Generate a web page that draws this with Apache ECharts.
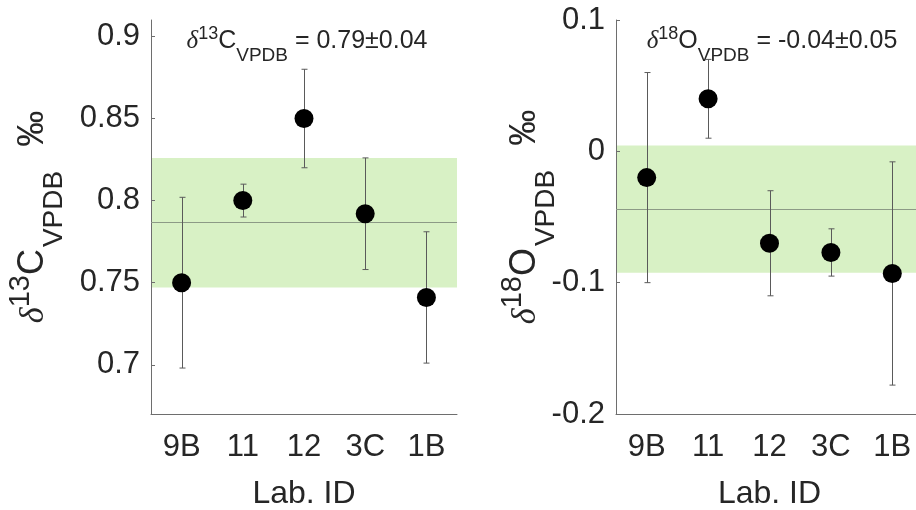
<!DOCTYPE html>
<html><head><meta charset="utf-8">
<script src="https://cdn.jsdelivr.net/npm/echarts@6/dist/echarts.min.js"></script>
<style>html,body{margin:0;padding:0;background:#fff}#c{width:916px;height:510px}</style>
</head><body><div id="c"></div>
<script>
// ---- data ----
const labs = ['9B', '11', '12', '3C', '1B'];
const c13Mean = [0.750, 0.800, 0.850, 0.792, 0.741];
const c13Err  = [0.052, 0.010, 0.030, 0.034, 0.040];
const o18Mean = [-0.020, 0.040, -0.070, -0.077, -0.093];
const o18Err  = [0.080, 0.030, 0.040, 0.018, 0.085];
const c13Consensus = 0.7865, c13Spread = 0.0395;
const o18Consensus = -0.044, o18Spread = 0.0485;
const c13Ticks = [0.7, 0.75, 0.8, 0.85, 0.9];
const o18Ticks = [-0.2, -0.1, 0, 0.1];
const c13Range = [0.67, 0.91];
const o18Range = [-0.2, 0.1];
const c13Title = '{d|δ}{sup|13}{n|C}{sub|VPDB}{n| = 0.79±0.04}';
const o18Title = '{d|δ}{sup|18}{n|O}{sub|VPDB}{n| = -0.04±0.05}';
const c13YName = '{d|δ}{sup|13}{n|C}{sub|VPDB}{pm|‰}';
const o18YName = '{d|δ}{sup|18}{n|O}{sub|VPDB}{pm|‰}';
const xName = 'Lab. ID';

// ---- styles ----
const FONT = 'Liberation Sans';
const TXT = '#262626';
const AXIS = '#6e6e6e';
function tok(size, pad, extra) {
  return Object.assign({fontSize: size, fontWeight: 'normal', color: TXT, verticalAlign: 'bottom',
    padding: pad}, extra || {});
}
const serifItalic = {fontStyle: 'italic', fontFamily: 'Liberation Serif'};
const titleRich = {
  d:   tok(25, [0, 0, 11, 0], serifItalic),
  sup: tok(18, [0, 0, 22, 0]),
  n:   tok(25, [0, 0, 11, 0]),
  sub: tok(19, [0, 0, 0, 0])
};
const yRich = {
  d:   tok(34, [0, 0, 17, 0], serifItalic),
  sup: tok(29, [0, 0, 33, 0]),
  n:   tok(36, [0, 2, 17, 0]),
  sub: tok(28, [0, 0, 0, 0]),
  pm:  tok(36, [0, 0, 17, 24])
};

function errRender(params, api) {
  const x = api.value(0), lo = api.value(1), hi = api.value(2);
  const pLo = api.coord([x, lo]), pHi = api.coord([x, hi]);
  const cx = Math.round(pLo[0]) + 0.5;
  const w = 3;
  const style = {stroke: '#5a5a5a', lineWidth: 1, fill: null};
  return {type: 'group', children: [
    {type: 'line', shape: {x1: cx, y1: pLo[1], x2: cx, y2: pHi[1]}, style},
    {type: 'line', shape: {x1: cx - w, y1: pLo[1], x2: cx + w, y2: pLo[1]}, style},
    {type: 'line', shape: {x1: cx - w, y1: pHi[1], x2: cx + w, y2: pHi[1]}, style}
  ]};
}

function xAxisCfg(idx) {
  return {
    type: 'category', gridIndex: idx, data: labs, boundaryGap: true,
    axisLine: {onZero: false, lineStyle: {color: AXIS, width: 1}},
    axisTick: {inside: true, length: 4, alignWithLabel: true, lineStyle: {color: AXIS}},
    axisLabel: {fontSize: 31, fontFamily: FONT, color: TXT, margin: 18},
    name: xName, nameLocation: 'middle', nameGap: 64, nameMoveOverlap: false,
    nameTextStyle: {fontSize: 32, fontFamily: FONT, color: TXT},
    splitLine: {show: false}
  };
}
function yAxisCfg(idx, range, ticks, yname, gap) {
  return {
    type: 'value', gridIndex: idx, min: range[0], max: range[1],
    axisLine: {show: true, onZero: false, lineStyle: {color: AXIS, width: 1}},
    axisTick: {show: true, inside: true, length: 4, customValues: ticks, lineStyle: {color: AXIS}},
    axisLabel: {fontSize: 31, fontFamily: FONT, color: TXT, margin: 11, customValues: ticks},
    splitLine: {show: false},
    name: yname, nameLocation: 'middle', nameRotate: 90, nameGap: gap, nameMoveOverlap: false,
    nameTextStyle: {fontFamily: FONT, color: TXT, rich: yRich}
  };
}
function errData(mean, err) {
  return labs.map((l, i) => [i, mean[i] - err[i], mean[i] + err[i]]);
}
function seriesFor(idx, mean, err, cons, spread) {
  return [
    {
      type: 'custom', xAxisIndex: idx, yAxisIndex: idx, z: 2,
      renderItem: errRender, data: errData(mean, err), encode: {x: 0, y: [1, 2]},
      silent: true,
      markArea: {silent: true, z: 0, precision: 6, itemStyle: {color: '#d8f1c5', opacity: 1},
        data: [[{yAxis: cons - spread}, {yAxis: cons + spread}]]},
      markLine: {silent: true, z: 1, precision: 6, symbol: 'none', label: {show: false},
        lineStyle: {color: '#8c9a86', width: 1, type: 'solid'},
        data: [{yAxis: cons}]}
    },
    {
      type: 'scatter', xAxisIndex: idx, yAxisIndex: idx, z: 3,
      data: mean, symbol: 'circle', symbolSize: 19,
      itemStyle: {color: '#000000', opacity: 1}
    }
  ];
}

const chart = echarts.init(document.getElementById('c'), null, {renderer: 'canvas'});
chart.setOption({
  animation: false,
  backgroundColor: '#ffffff',
  title: [
    {text: c13Title, left: 307, top: 25, padding: 0, textAlign: 'center',
     textStyle: {fontFamily: FONT, fontWeight: 'normal', color: TXT, rich: titleRich}},
    {text: o18Title, left: 772, top: 25, padding: 0, textAlign: 'center',
     textStyle: {fontFamily: FONT, fontWeight: 'normal', color: TXT, rich: titleRich}}
  ],
  grid: [
    {left: 151, top: 20, width: 306, bottom: 96, outerBoundsMode: 'none', containLabel: false},
    {left: 616, top: 20, width: 307, bottom: 96, outerBoundsMode: 'none', containLabel: false}
  ],
  xAxis: [xAxisCfg(0), xAxisCfg(1)],
  yAxis: [
    yAxisCfg(0, c13Range, c13Ticks, c13YName, 83),
    yAxisCfg(1, o18Range, o18Ticks, o18YName, 56)
  ],
  series: [
    ...seriesFor(0, c13Mean, c13Err, c13Consensus, c13Spread),
    ...seriesFor(1, o18Mean, o18Err, o18Consensus, o18Spread)
  ]
});
</script>
</body></html>
